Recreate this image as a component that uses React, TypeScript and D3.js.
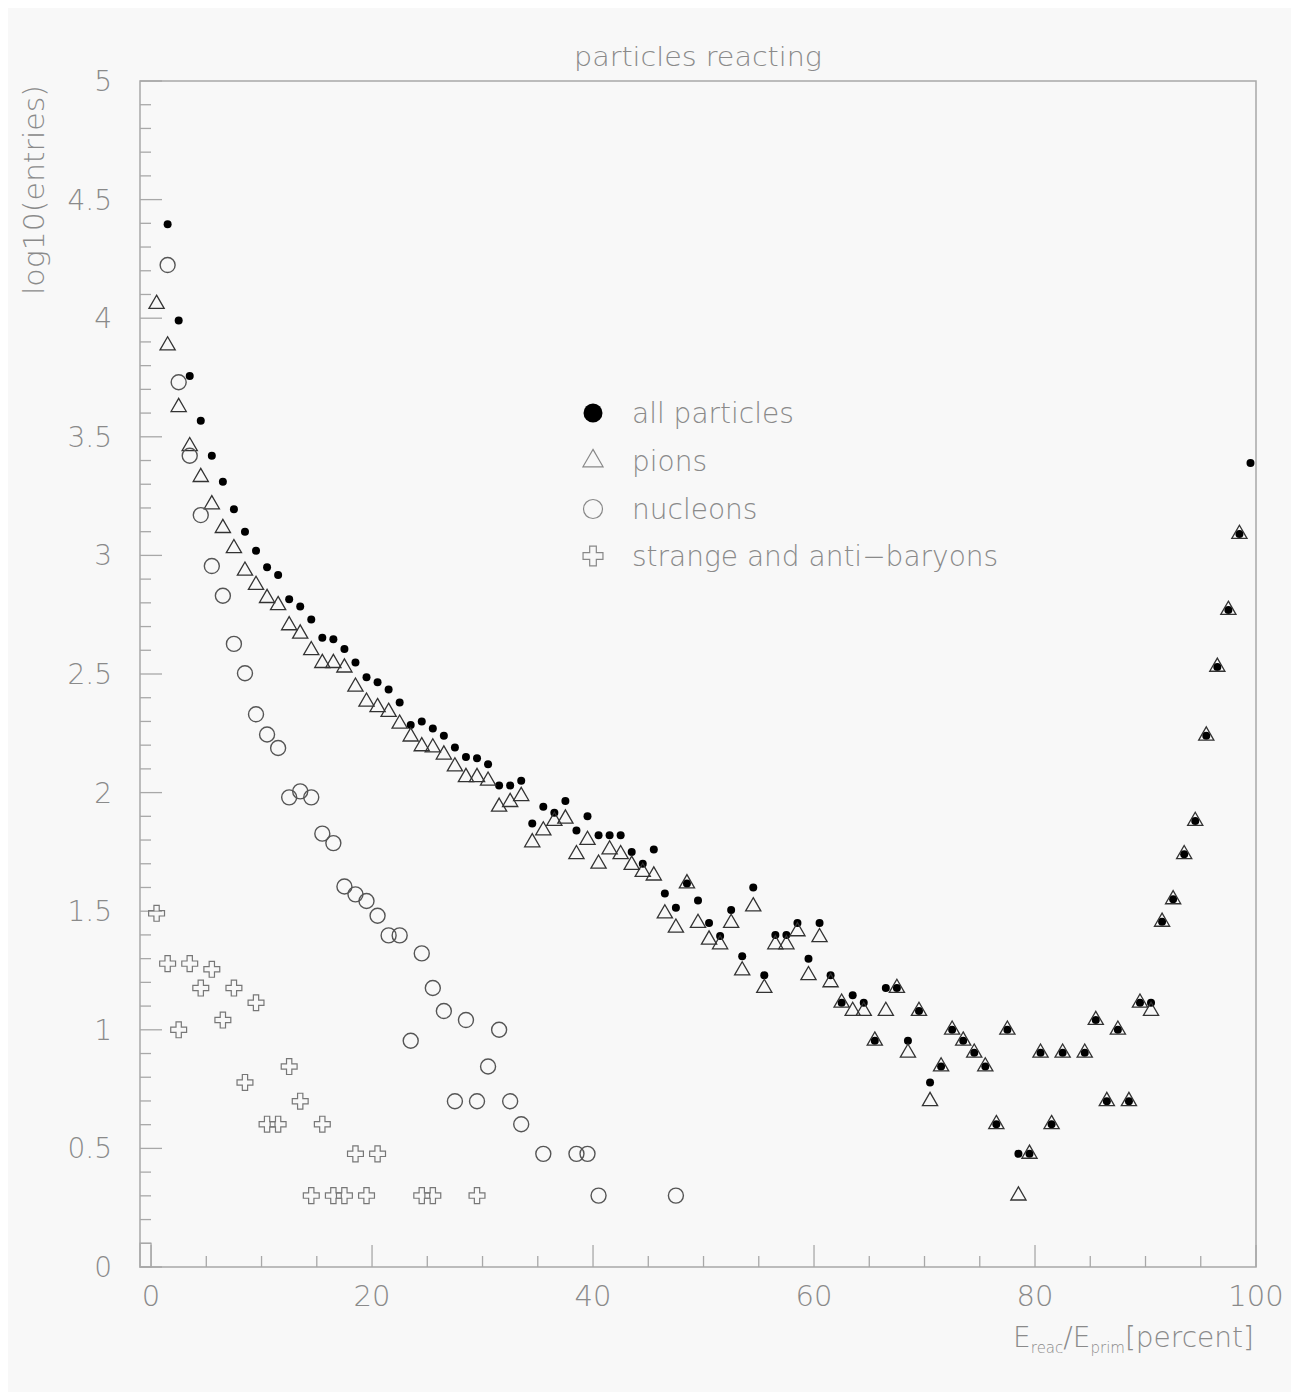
import React from "react";
import * as d3 from "d3";

// log10(entries) per 1% bin of E_reac/E_prim, bin i is centred at i + 0.5 (null = empty bin)
const allParticles: (number | null)[] = [
  null, 4.396, 3.99, 3.756, 3.568, 3.42, 3.31, 3.195, 3.1, 3.02,
  2.95, 2.917, 2.815, 2.785, 2.73, 2.653, 2.646, 2.605, 2.548, 2.486,
  2.465, 2.435, 2.38, 2.285, 2.3, 2.27, 2.24, 2.19, 2.15, 2.145,
  2.12, 2.03, 2.03, 2.05, 1.87, 1.94, 1.915, 1.965, 1.84, 1.9,
  1.82, 1.82, 1.82, 1.75, 1.7, 1.76, 1.575, 1.515, 1.617, 1.545,
  1.45, 1.395, 1.505, 1.31, 1.6, 1.23, 1.4, 1.4, 1.45, 1.3,
  1.45, 1.23, 1.114, 1.146, 1.114, 0.954, 1.176, 1.176, 0.954, 1.079,
  0.778, 0.845, 1.0, 0.954, 0.903, 0.845, 0.602, 1.0, 0.477, 0.477,
  0.903, 0.602, 0.903, null, 0.903, 1.041, 0.699, 1.0, 0.699, 1.114,
  1.114, 1.455, 1.55, 1.74, 1.88, 2.24, 2.53, 2.77, 3.09, 3.39,
];

const pions: (number | null)[] = [
  4.06, 3.885, 3.625, 3.46, 3.33, 3.215, 3.115, 3.03, 2.935, 2.875,
  2.82, 2.79, 2.705, 2.67, 2.6, 2.546, 2.546, 2.527, 2.446, 2.383,
  2.36, 2.34, 2.29, 2.236, 2.195, 2.19, 2.16, 2.11, 2.065, 2.065,
  2.05, 1.94, 1.96, 1.985, 1.79, 1.84, 1.88, 1.89, 1.74, 1.8,
  1.7, 1.76, 1.74, 1.695, 1.665, 1.65, 1.49, 1.43, 1.617, 1.45,
  1.38, 1.36, 1.45, 1.25, 1.52, 1.176, 1.36, 1.36, 1.415, 1.23,
  1.39, 1.2, 1.114, 1.079, 1.079, 0.954, 1.079, 1.176, 0.903, 1.079,
  0.699, 0.845, 1.0, 0.954, 0.903, 0.845, 0.602, 1.0, 0.301, 0.477,
  0.903, 0.602, 0.903, null, 0.903, 1.041, 0.699, 1.0, 0.699, 1.114,
  1.079, 1.455, 1.55, 1.74, 1.88, 2.24, 2.53, 2.77, 3.09, null,
];

const nucleons: (number | null)[] = [
  null, 4.224, 3.73, 3.42, 3.17, 2.955, 2.83, 2.627, 2.503, 2.33,
  2.245, 2.188, 1.98, 2.005, 1.98, 1.827, 1.787, 1.604, 1.571, 1.543,
  1.481, 1.398, 1.398, 0.954, 1.322, 1.176, 1.079, 0.699, 1.041, 0.699,
  0.845, 1.0, 0.699, 0.602, null, 0.477, null, null, 0.477, 0.477,
  0.301, null, null, null, null, null, null, 0.301,
];

const strangeBaryons: (number | null)[] = [
  1.491, 1.279, 1.0, 1.279, 1.176, 1.255, 1.041, 1.176, 0.778, 1.114,
  0.602, 0.602, 0.845, 0.699, 0.301, 0.602, 0.301, 0.301, 0.477, 0.301,
  0.477, null, null, null, 0.301, 0.301, null, null, null, 0.301,
];

// underflow-like bar drawn at the left edge (x from -1 to 0)
const edgeBar = { x0: -1, x1: 0, value: 0.1 };

const xTickLabels = [0, 20, 40, 60, 80, 100];
const yTickLabels = [0, 0.5, 1, 1.5, 2, 2.5, 3, 3.5, 4, 4.5, 5];
const legendLabels = ["all particles", "pions", "nucleons", "strange and anti\u2212baryons"];

const W = 1291;
const H = 1384;
const FONT = "'DejaVu Sans', 'Noto Sans', sans-serif";
const TEXT = "#8a8a8a";
const AXIS = "#a8a8a8";

const x = d3.scaleLinear().domain([-1, 100]).range([132, 1248]);
const y = d3.scaleLinear().domain([0, 5]).range([1259, 73]);

const triPath = d3.symbol(d3.symbolTriangle, 100)() as string;
const crossPath = d3.symbol(d3.symbolCross, 140)() as string;
const triLegend = d3.symbol(d3.symbolTriangle, 175)() as string;
const crossLegend = d3.symbol(d3.symbolCross, 220)() as string;

const pts = (arr: (number | null)[]) =>
  arr
    .map((v, i) => ({ i, v }))
    .filter((d) => d.v !== null) as { i: number; v: number }[];

const App: React.FC = () => {
  const minorY = d3.range(0, 51).map((k) => k / 10);
  const minorX = d3.range(0, 101, 5);
  const legendY = [405, 453, 501, 548];

  return (
    <svg width={W} height={H} style={{ display: "block" }} fontFamily={FONT}>
      <rect width={W} height={H} fill="#f8f8f8" />

      {/* title */}
      <text x={690} y={58} textAnchor="middle" fontSize={27} fill={TEXT} fontWeight={300} textLength={248} lengthAdjust="spacingAndGlyphs">
        particles reacting
      </text>

      {/* frame */}
      <rect x={x(-1)} y={y(5)} width={x(100) - x(-1)} height={y(0) - y(5)} fill="none" stroke={AXIS} strokeWidth={1.5} />

      {/* y ticks */}
      {minorY.map((v, k) => (
        <line key={"yt" + k} x1={x(-1)} x2={x(-1) + (k % 5 === 0 ? 22 : 11)} y1={y(v)} y2={y(v)} stroke={AXIS} strokeWidth={1.3} />
      ))}
      {/* x ticks */}
      {minorX.map((v) => (
        <line key={"xt" + v} x1={x(v)} x2={x(v)} y1={y(0)} y2={y(0) - (v % 20 === 0 ? 22 : 11)} stroke={AXIS} strokeWidth={1.3} />
      ))}

      {yTickLabels.map((v) => (
        <text key={"yl" + v} x={104} y={y(v) + 10} textAnchor="end" fontSize={28} fill={TEXT} fontWeight={300}>
          {v}
        </text>
      ))}
      {xTickLabels.map((v) => (
        <text key={"xl" + v} x={x(v)} y={1298} textAnchor="middle" fontSize={29} fill={TEXT} fontWeight={300}>
          {v}
        </text>
      ))}

      {/* axis titles */}
      <text transform="translate(36,182) rotate(-90)" textAnchor="middle" fontSize={28} fill={TEXT} fontWeight={300} textLength={210} lengthAdjust="spacingAndGlyphs">
        log10(entries)
      </text>
      <text x={1246} y={1339} textAnchor="end" fontSize={28} fill={TEXT} fontWeight={300}>
        E<tspan fontSize={15} dy={6}>reac</tspan>
        <tspan dy={-6}>/E</tspan>
        <tspan fontSize={15} dy={6}>prim</tspan>
        <tspan dy={-6}>[percent]</tspan>
      </text>

      {/* edge bar */}
      <rect x={x(edgeBar.x0)} y={y(edgeBar.value)} width={x(edgeBar.x1) - x(edgeBar.x0)} height={y(0) - y(edgeBar.value)} fill="none" stroke={AXIS} strokeWidth={1.3} />

      {/* data */}
      <g>
        {pts(allParticles).map((d) => (
          <circle key={"a" + d.i} cx={x(d.i + 0.5)} cy={y(d.v)} r={4} fill="#000" />
        ))}
      </g>
      <g fill="none" stroke="#333" strokeWidth={1.3}>
        {pts(pions).map((d) => (
          <path key={"p" + d.i} d={triPath} transform={`translate(${x(d.i + 0.5)},${y(d.v)})`} />
        ))}
      </g>
      <g fill="none" stroke="#555" strokeWidth={1.4}>
        {pts(nucleons).map((d) => (
          <circle key={"n" + d.i} cx={x(d.i + 0.5)} cy={y(d.v)} r={7.5} />
        ))}
      </g>
      <g fill="none" stroke="#777" strokeWidth={1.2}>
        {pts(strangeBaryons).map((d) => (
          <path key={"s" + d.i} d={crossPath} transform={`translate(${x(d.i + 0.5)},${y(d.v)})`} />
        ))}
      </g>

      {/* legend */}
      <g>
        <circle cx={585} cy={legendY[0]} r={9.5} fill="#000" />
        <path d={triLegend} transform={`translate(585,${legendY[1]})`} fill="none" stroke="#888" strokeWidth={1.2} />
        <circle cx={585} cy={legendY[2]} r={9.5} fill="none" stroke="#888" strokeWidth={1.2} />
        <path d={crossLegend} transform={`translate(585,${legendY[3]})`} fill="none" stroke="#888" strokeWidth={1.2} />
        {legendLabels.map((t, k) => (
          <text key={t} x={624} y={legendY[k] + 10} fontSize={28} fill={TEXT} fontWeight={300}>
            {t}
          </text>
        ))}
      </g>
    </svg>
  );
};

export default App;
